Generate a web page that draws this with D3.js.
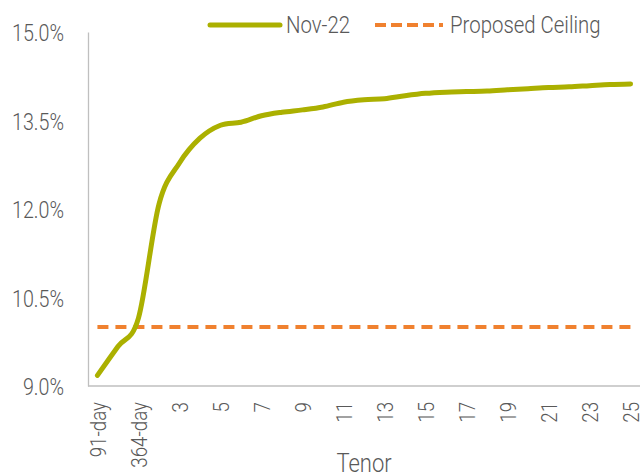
<!DOCTYPE html>
<html>
<head>
<meta charset="utf-8">
<script src="https://cdn.jsdelivr.net/npm/d3@7"></script>
<style>
  html, body { margin: 0; padding: 0; background: #fff; }
  svg text { font-family: Roboto, "Noto Sans", sans-serif; font-weight: 300; fill: #595959; }
</style>
</head>
<body>
<svg id="chart" width="641" height="473"></svg>
<script>
// Tenor buckets along the curve
const tenors = ["91-day", "182-day", "364-day", "2", "3", "4", "5", "6", "7", "8", "9", "10",
  "11", "12", "13", "14", "15", "16", "17", "18", "19", "20", "21", "22", "23", "24", "25"];
// Yield curve, Nov-22 (%)
const nov22 = [9.18, 9.67, 10.15, 12.08, 12.78, 13.2, 13.42, 13.47, 13.58, 13.64, 13.68, 13.73,
  13.81, 13.85, 13.87, 13.92, 13.96, 13.98, 13.99, 14.00, 14.02, 14.04, 14.06, 14.07, 14.09, 14.11, 14.12];
// Proposed ceiling rate (%)
const ceiling = 10.0;
// Y-axis ticks (%)
const yTicks = [9.0, 10.5, 12.0, 13.5, 15.0];
// Every other tenor gets a label
const xTickLabels = tenors.filter((d, i) => i % 2 === 0);

const seriesNames = ["Nov-22", "Proposed Ceiling"];
const colors = { line: "#abb000", ceiling: "#f0812f", axis: "#bfbfbf" };

// Type is narrowed horizontally to get a condensed face
const TYPE = {
  yTick:  { size: 24, sq: 0.82 },
  xTick:  { size: 22, sq: 0.85 },
  legend: { size: 24, sq: 0.85 },
  title:  { size: 25, sq: 0.88 }
};

const svg = d3.select("#chart");
const plot = { left: 88, right: 640, top: 32, bottom: 386 };

const x = d3.scalePoint().domain(tenors).range([plot.left, plot.right]).padding(0.46);
const y = d3.scaleLinear().domain([9, 15]).range([plot.bottom, plot.top]);

// Y axis
const yAxis = svg.append("g")
  .attr("transform", `translate(${plot.left},0)`)
  .call(d3.axisLeft(y).tickValues(yTicks).tickSize(0)
    .tickFormat(d => d.toFixed(1) + "%"));
yAxis.select(".domain").attr("stroke", colors.axis).attr("stroke-width", 1.3);
yAxis.selectAll(".tick text")
  .attr("text-anchor", "end")
  .attr("x", -24 / TYPE.yTick.sq).attr("dy", "0.36em")
  .attr("transform", `scale(${TYPE.yTick.sq},1)`)
  .style("font-size", TYPE.yTick.size + "px");

// X axis
const xAxis = svg.append("g")
  .attr("transform", `translate(0,${plot.bottom})`)
  .call(d3.axisBottom(x).tickValues(xTickLabels).tickSize(0));
xAxis.select(".domain").remove();
xAxis.append("line")
  .attr("x1", plot.left).attr("x2", plot.right)
  .attr("stroke", colors.axis).attr("stroke-width", 1.3);
xAxis.selectAll(".tick text")
  .attr("transform", `rotate(-90) scale(${TYPE.xTick.sq},1)`)
  .attr("text-anchor", "end")
  .attr("x", -16 / TYPE.xTick.sq).attr("y", 0).attr("dy", "0.36em")
  .style("font-size", TYPE.xTick.size + "px");

// Helper for free-standing condensed labels
function label(px, py, str, t, anchor) {
  return svg.append("text")
    .attr("transform", `translate(${px},${py}) scale(${t.sq},1)`)
    .attr("text-anchor", anchor || "start")
    .style("font-size", t.size + "px")
    .text(str);
}

// Axis title
label((plot.left + plot.right) / 2, 472, "Tenor", TYPE.title, "middle");

// Proposed ceiling
svg.append("line")
  .attr("x1", x(tenors[0])).attr("x2", x(tenors[tenors.length - 1]))
  .attr("y1", y(ceiling)).attr("y2", y(ceiling))
  .attr("stroke", colors.ceiling).attr("stroke-width", 4)
  .attr("stroke-dasharray", "11 7");

// Nov-22 curve
const line = d3.line()
  .x((d, i) => x(tenors[i]))
  .y(d => y(d))
  .curve(d3.curveCardinal.tension(0));
svg.append("path")
  .datum(nov22)
  .attr("d", line)
  .attr("fill", "none")
  .attr("stroke", colors.line)
  .attr("stroke-width", 5)
  .attr("stroke-linecap", "round");

// Legend
svg.append("line")
  .attr("x1", 210).attr("x2", 280).attr("y1", 25).attr("y2", 25)
  .attr("stroke", colors.line).attr("stroke-width", 5).attr("stroke-linecap", "round");
label(286, 33, seriesNames[0], TYPE.legend);
svg.append("line")
  .attr("x1", 375).attr("x2", 443).attr("y1", 25).attr("y2", 25)
  .attr("stroke", colors.ceiling).attr("stroke-width", 4).attr("stroke-dasharray", "11 5");
label(450, 33, seriesNames[1], TYPE.legend);
</script>
</body>
</html>
